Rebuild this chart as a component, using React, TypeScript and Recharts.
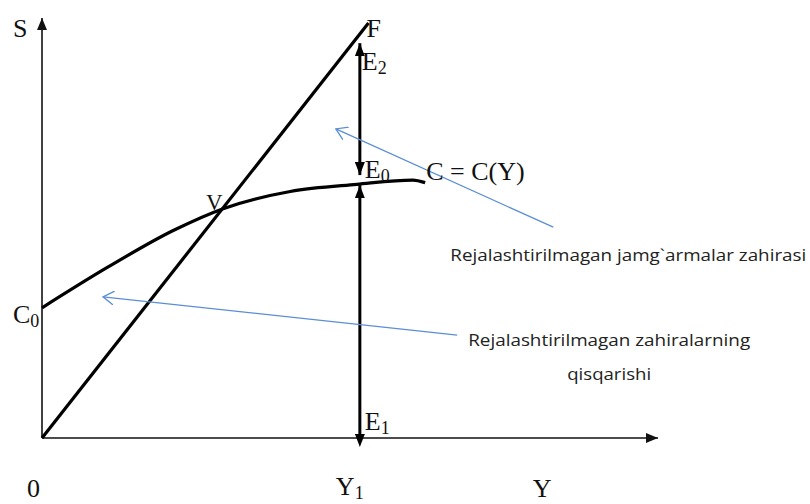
import React from 'react';
import { ComposedChart, Line, XAxis, YAxis, ReferenceDot } from 'recharts';

// diagram units: income Y on x, S / C on y, both 0..100
const xAxisLine = [{ x: 0, y: 0 }, { x: 100, y: 0 }];
const yAxisLine = [{ x: 0, y: 0 }, { x: 0, y: 100 }];
const incomeLine = [{ x: 0, y: 0 }, { x: 53, y: 98.8 }];
const consumption = [
  { x: 0, y: 31.0 },
  { x: 10.6, y: 40.6 },
  { x: 21.3, y: 49.4 },
  { x: 29.4, y: 54.6 },
  { x: 40.3, y: 58.7 },
  { x: 51.1, y: 60.4 },
  { x: 60.2, y: 61.4 },
  { x: 62.2, y: 60.8 },
];
const Y1 = 51.6;
const lowerGap = [{ x: Y1, y: 0 }, { x: Y1, y: 60.2 }];
const upperGap = [{ x: Y1, y: 94 }, { x: Y1, y: 62.6 }];
const surplusArrow = [{ x: 83, y: 50.2 }, { x: 47.7, y: 73.6 }];
const shortageArrow = [{ x: 67.4, y: 24.5 }, { x: 9.9, y: 33.6 }];

const surplusText = 'Rejalashtirilmagan jamg`armalar zahirasi';
const shortageText = ['Rejalashtirilmagan zahiralarning', 'qisqarishi'];

const SERIF = '"Liberation Serif", "Times New Roman", serif';
const SANS = '"Open Sans", "Noto Sans", sans-serif';
const BLUE = '#5b8ed6';

const tag = (main: string, sub: string | null, dx: number, dy: number, size = 26) =>
  (p: any) => (
    <text x={p.cx + dx} y={p.cy + dy} fontFamily={SERIF} fontSize={size} fill="#111">
      {main}
      {sub && <tspan fontSize={18} dy={4}>{sub}</tspan>}
    </text>
  );

const note = (lines: { t: string; dx: number; dy: number; len: number }[]) =>
  (p: any) => (
    <g>
      {lines.map((l, i) => (
        <text key={i} x={p.cx + l.dx} y={p.cy + l.dy} fontFamily={SANS} fontSize={17}
          fill="#222" textLength={l.len} lengthAdjust="spacingAndGlyphs">
          {l.t}
        </text>
      ))}
    </g>
  );

const seg = { dot: false, activeDot: false, isAnimationActive: false, type: 'linear' as const };

export default function App() {
  return (
    <div style={{ position: 'absolute', left: 0, top: 0, width: 810, height: 504, background: '#fff' }}>
      <ComposedChart width={810} height={504} margin={{ top: 18, right: 152, bottom: 66, left: 42 }}>
        <defs>
          <marker id="axisHead" viewBox="0 0 12 10" refX={12} refY={5} markerWidth={12} markerHeight={10}
            markerUnits="userSpaceOnUse" orient="auto">
            <path d="M0,0 L12,5 L0,10 z" fill="#111" />
          </marker>
          <marker id="barHead" viewBox="0 0 13 10" refX={13} refY={5} markerWidth={13} markerHeight={10}
            markerUnits="userSpaceOnUse" orient="auto-start-reverse">
            <path d="M0,0 L13,5 L0,10 z" fill="#000" />
          </marker>
          <marker id="barHeadLow" viewBox="0 0 13 10" refX={4} refY={5} markerWidth={13} markerHeight={10}
            markerUnits="userSpaceOnUse" orient="auto-start-reverse">
            <path d="M0,0 L13,5 L0,10 z" fill="#000" />
          </marker>
          <marker id="openHead" viewBox="0 0 12 14" refX={11} refY={7} markerWidth={12} markerHeight={14}
            markerUnits="userSpaceOnUse" orient="auto">
            <path d="M0,0 L11,7 L0,14" fill="none" stroke={BLUE} strokeWidth={1.3} />
          </marker>
        </defs>
        <XAxis type="number" dataKey="x" domain={[0, 100]} hide />
        <YAxis type="number" dataKey="y" domain={[0, 100]} hide />

        <Line {...seg} data={xAxisLine} dataKey="y" stroke="#111" strokeWidth={1.6} markerEnd="url(#axisHead)" />
        <Line {...seg} data={yAxisLine} dataKey="y" stroke="#111" strokeWidth={1.6} markerEnd="url(#axisHead)" />
        <Line {...seg} data={incomeLine} dataKey="y" stroke="#000" strokeWidth={3.2} />
        <Line {...seg} data={consumption} dataKey="y" stroke="#000" strokeWidth={3.2} type="monotone" />
        <Line {...seg} data={lowerGap} dataKey="y" stroke="#000" strokeWidth={3}
          markerStart="url(#barHeadLow)" markerEnd="url(#barHead)" />
        <Line {...seg} data={upperGap} dataKey="y" stroke="#000" strokeWidth={3}
          markerStart="url(#barHead)" markerEnd="url(#barHead)" />
        <Line {...seg} data={surplusArrow} dataKey="y" stroke={BLUE} strokeWidth={1.3} markerEnd="url(#openHead)" />
        <Line {...seg} data={shortageArrow} dataKey="y" stroke={BLUE} strokeWidth={1.3} markerEnd="url(#openHead)" />

        <ReferenceDot x={0} y={100} r={0} shape={tag('S', null, -29, 19)} />
        <ReferenceDot x={0} y={31} r={0} shape={tag('C', '0', -29, 15)} />
        <ReferenceDot x={0} y={0} r={0} shape={tag('0', null, -15, 59)} />
        <ReferenceDot x={Y1} y={0} r={0} shape={tag('Y', '1', -24, 57)} />
        <ReferenceDot x={80} y={0} r={0} shape={tag('Y', null, -2, 59)} />
        <ReferenceDot x={Y1} y={0} r={0} shape={tag('E', '1', 5, -8)} />
        <ReferenceDot x={Y1} y={60.3} r={0} shape={tag('E', '0', 5, -7)} />
        <ReferenceDot x={Y1} y={94} r={0} shape={tag('E', '2', 2, 27)} />
        <ReferenceDot x={53} y={98.8} r={0} shape={tag('F', null, -2, 14)} />
        <ReferenceDot x={29.4} y={54.8} r={0} shape={tag('V', null, -17, 2, 23)} />
        <ReferenceDot x={62.2} y={60.7} r={0} shape={tag('C = C(Y)', null, 1, -3)} />
        <ReferenceDot x={83} y={50.2} r={0}
          shape={note([{ t: surplusText, dx: -103, dy: 34, len: 356 }])} />
        <ReferenceDot x={67.4} y={24.5} r={0}
          shape={note([
            { t: shortageText[0], dx: 11, dy: 11, len: 282 },
            { t: shortageText[1], dx: 110, dy: 45, len: 84 },
          ])} />
      </ComposedChart>
    </div>
  );
}
